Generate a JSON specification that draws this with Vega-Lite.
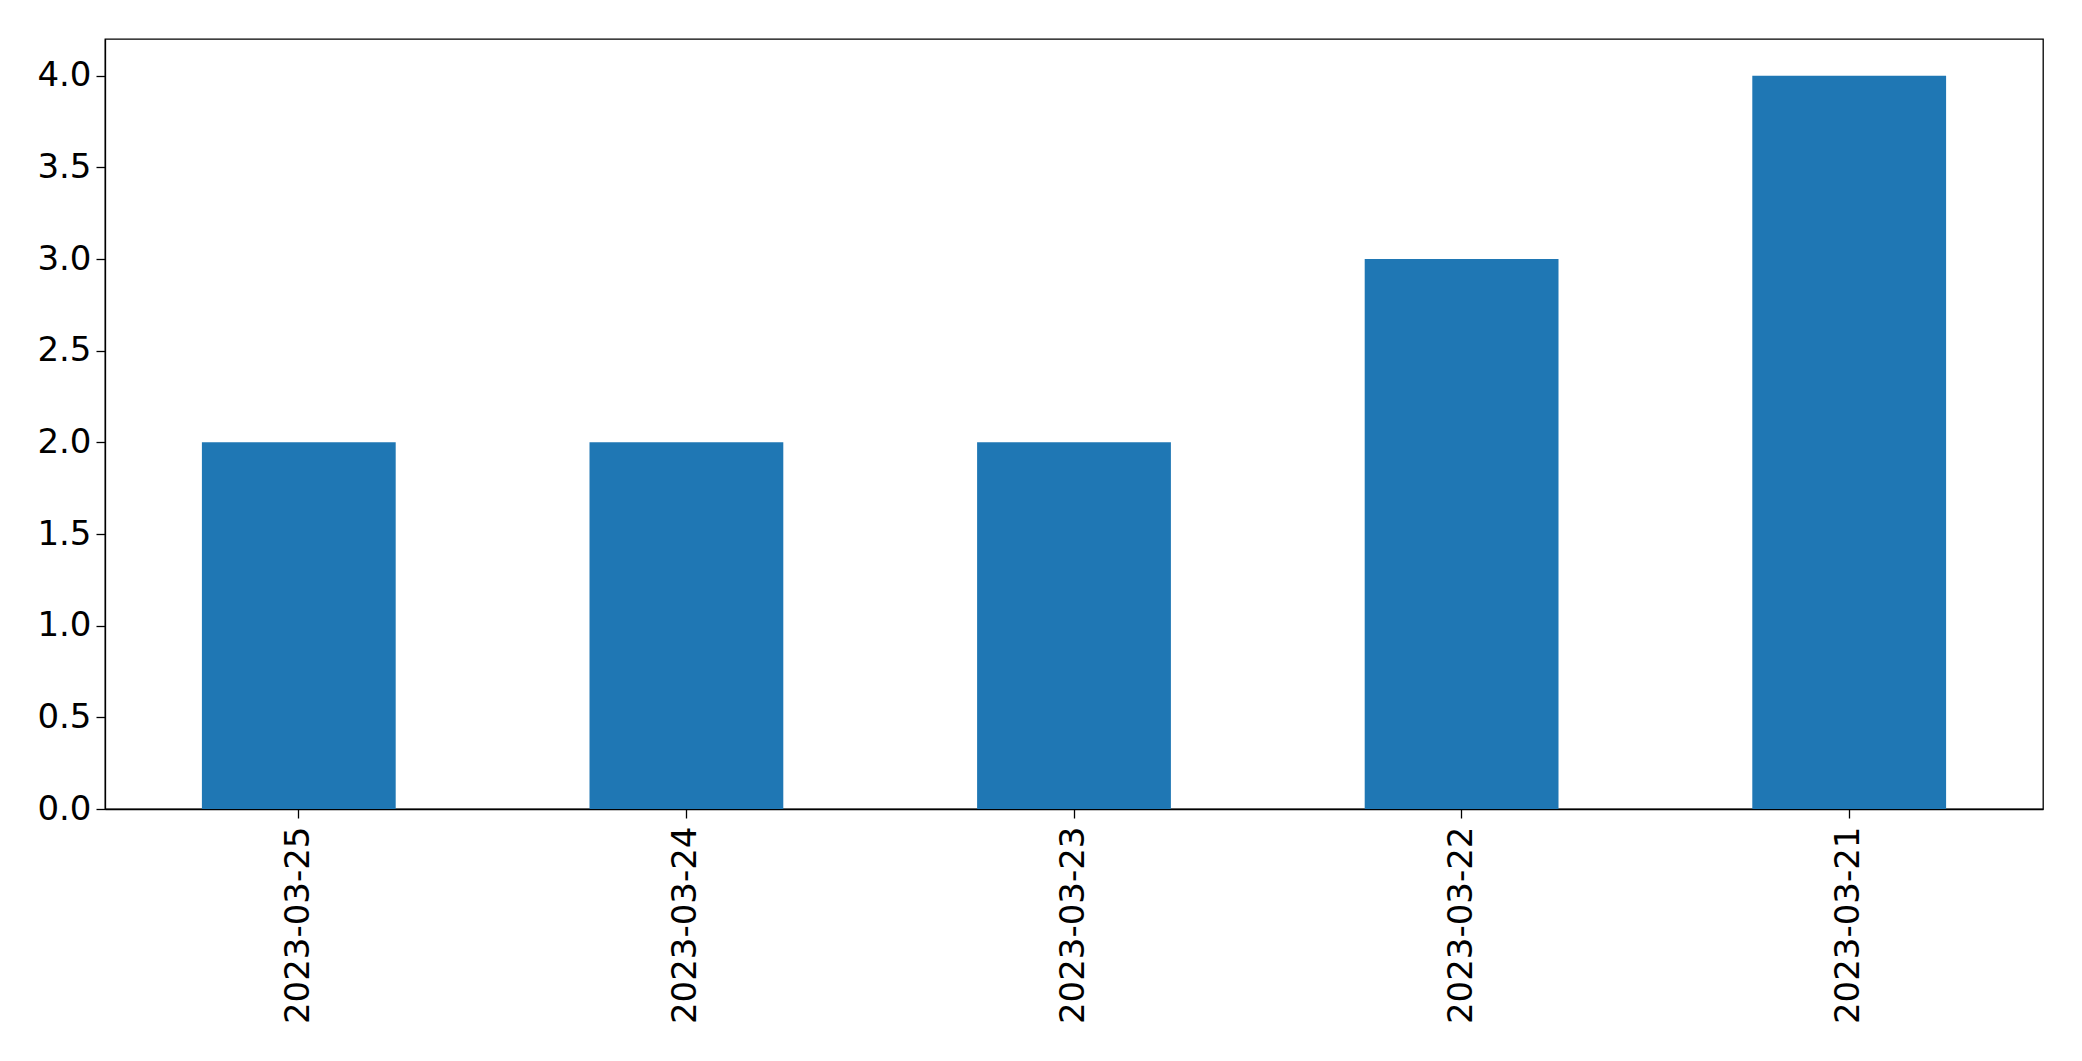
{
  "$schema": "https://vega.github.io/schema/vega-lite/v6.json",
  "width": 1938,
  "height": 770,
  "autosize": {"type": "none"},
  "padding": {"left": 105, "top": 39, "right": 39, "bottom": 252},
  "background": "white",
  "config": {
    "view": {"stroke": "black", "strokeWidth": 1.3},
    "font": "DejaVu Sans",
    "axis": {
      "labelFont": "DejaVu Sans",
      "labelFontSize": 34,
      "labelColor": "black",
      "labelLimit": 0,
      "domainColor": "black",
      "domainWidth": 1.3,
      "tickColor": "black",
      "tickWidth": 1.3,
      "tickSize": 9,
      "grid": false,
      "title": null
    }
  },
  "data": {
    "values": [
      {"date": "2023-03-25", "count": 2},
      {"date": "2023-03-24", "count": 2},
      {"date": "2023-03-23", "count": 2},
      {"date": "2023-03-22", "count": 3},
      {"date": "2023-03-21", "count": 4}
    ]
  },
  "mark": {"type": "bar", "color": "#1f77b4"},
  "encoding": {
    "x": {
      "field": "date",
      "type": "nominal",
      "sort": null,
      "scale": {"paddingInner": 0.5, "paddingOuter": 0.25},
      "axis": {"labelAngle": -90, "labelPadding": 8, "labelLimit": 0, "title": null}
    },
    "y": {
      "field": "count",
      "type": "quantitative",
      "scale": {"domain": [0, 4.2], "nice": false},
      "axis": {"values": [0, 0.5, 1, 1.5, 2, 2.5, 3, 3.5, 4], "format": ".1f", "labelPadding": 5, "title": null}
    }
  }
}
